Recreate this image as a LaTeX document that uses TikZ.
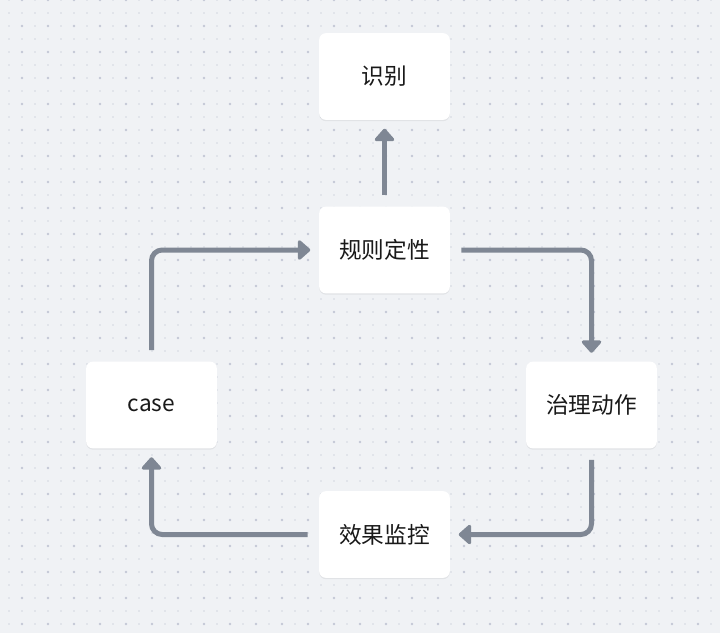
\documentclass[tikz,border=0pt]{standalone}
\usepackage{fontspec}
\setmainfont{Noto Sans CJK SC}
\usetikzlibrary{arrows.meta,shadows}

\definecolor{paper}{HTML}{F0F2F5}
\definecolor{dotsmall}{HTML}{D3D7E0}
\definecolor{dotbig}{HTML}{C3C7D6}
\definecolor{flowgray}{HTML}{7F8794}

\begin{document}
\begin{tikzpicture}[x=0.75pt, y=-0.75pt,
  box/.style={fill=white, rounded corners=5pt, minimum width=98pt, minimum height=65pt,
    font=\fontsize{17}{20}\selectfont, text=black!90,
    drop shadow={shadow xshift=0pt, shadow yshift=-1pt, opacity=0.06, fill=black}},
  flow/.style={draw=flowgray, line width=3.75pt, rounded corners=8pt,
    -{Triangle[width=17pt, length=10pt, round]}, shorten <=8.5pt, shorten >=6.5pt}]

 % background and dot grid
 \fill [paper] (0,0) rectangle (720,633);
 \useasboundingbox (0,0) rectangle (720,633);
 \foreach \i in {0,...,55} {
  \foreach \j in {0,...,48} {
   \pgfmathsetmacro{\xx}{9+13*\i}
   \pgfmathsetmacro{\yy}{13*\j}
   \ifodd\i \ifodd\j \fill [dotsmall] (\xx,\yy) circle (0.6pt);
            \else \fill [dotbig] (\xx,\yy) circle (1.1pt); \fi
   \else \fill [dotsmall] (\xx,\yy) circle (0.6pt); \fi
  }
 }

 % the five steps
 \node [box] (ident) at (384.5,76.5) {识别};
 \node [box] (rule)  at (384.5,250)  {规则定性};
 \node [box] (act)   at (591.5,405)  {治理动作};
 \node [box] (watch) at (384.5,534.5) {效果监控};
 \node [box] (case)  at (151.5,405)  {case};

 % connect the steps
 \draw [flow] (rule) -- (ident);
 \draw [flow] (case.north) |- (rule.west);
 \draw [flow] (rule.east) -| (act.north);
 \draw [flow] (act.south) |- (watch.east);
 \draw [flow] (watch.west) -| (case.south);
\end{tikzpicture}
\end{document}
